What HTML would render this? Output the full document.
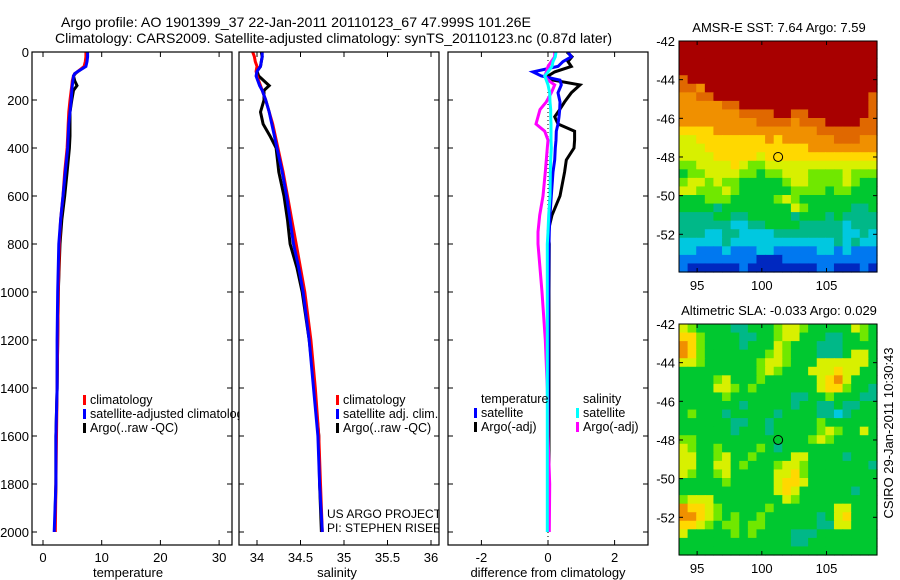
<!DOCTYPE html>
<html><head><meta charset="utf-8">
<style>
html,body{margin:0;padding:0;background:#fff;}
svg{display:block;font-family:"Liberation Sans",sans-serif;}
</style></head>
<body>
<svg id="fig" width="900" height="580" viewBox="0 0 900 580" xmlns="http://www.w3.org/2000/svg">
<rect width="900" height="580" fill="#fff"/>
<text x="61" y="27" font-size="14" textLength="470" lengthAdjust="spacingAndGlyphs">Argo profile: AO 1901399_37 22-Jan-2011 20110123_67 47.999S 101.26E</text>
<text x="55" y="43" font-size="14" textLength="557" lengthAdjust="spacingAndGlyphs">Climatology: CARS2009. Satellite-adjusted climatology: synTS_20110123.nc (0.87d later)</text>
<g id="g"></g>
</svg>
<script>
// ---------- data ----------
const depthTicks=[0,200,400,600,800,1000,1200,1400,1600,1800,2000];
const tempTicks=[0,10,20,30];
const salTicks=[34,34.5,35,35.5,36];
const diffTicks=[-2,0,2];
const latTicks=[-42,-44,-46,-48,-50,-52];
const lonTicks=[95,100,105];

const tDepth=[0,20,40,60,80,90,100,120,140,160,200,250,300,350,400,500,600,700,800,1000,1200,1400,1600,1800,2000];
const tempClim=[7.3,7.3,7.2,7.0,6.0,5.4,5.2,5.0,4.9,4.8,4.6,4.4,4.3,4.2,4.1,3.7,3.4,3.0,2.8,2.6,2.5,2.4,2.3,2.2,2.1];
const tempSat=[7.6,7.6,7.5,7.3,6.0,5.4,5.2,5.1,5.0,4.9,4.8,4.6,4.4,4.3,4.2,3.8,3.4,3.0,2.7,2.5,2.4,2.4,2.2,2.2,1.9];
const tempArgo=[7.5,7.5,7.4,7.2,6.0,5.5,5.2,5.4,5.8,5.2,4.9,4.6,4.6,4.6,4.5,4.1,3.7,3.2,2.9,2.6,2.5,2.4,2.2,2.2,2.0];

const sDepth=[0,20,40,60,80,100,140,160,200,250,300,350,400,500,600,700,800,900,1000,1200,1400,1600,1800,2000];
const salClim=[33.95,33.97,33.98,34.0,33.99,34.0,34.04,34.06,34.1,34.14,34.18,34.21,34.24,34.3,34.35,34.4,34.45,34.5,34.55,34.62,34.67,34.71,34.73,34.75];
const salSat=[34.06,34.06,34.05,34.04,34.0,33.99,34.03,34.06,34.1,34.14,34.17,34.2,34.23,34.29,34.34,34.38,34.42,34.48,34.53,34.6,34.65,34.7,34.72,34.75];
const salArgo=[34.05,34.06,34.05,34.04,34.0,34.02,34.14,34.08,34.08,34.04,34.07,34.15,34.22,34.25,34.31,34.35,34.38,34.46,34.52,34.6,34.66,34.71,34.72,34.74];

const dDepth=[0,20,40,60,83,100,117,137,170,208,240,270,300,330,367,400,450,500,600,680,750,800,1000,1200,1400,1600,1800,2000];
const dTempSat=[0.6,0.7,0.45,0.3,-0.45,-0.2,0.36,0.4,0.3,0.36,0.35,0.33,0.3,0.25,0.24,0.22,0.2,0.15,0.1,0.06,0.04,0.03,0.02,0.01,0.0,0.0,0.0,0.0];
const dTempArgo=[0.57,0.72,0.6,0.7,0.2,0.0,0.15,0.96,0.7,0.5,0.35,0.2,0.3,0.8,0.8,0.78,0.55,0.5,0.36,0.12,0.0,0.04,0.03,0.03,0.03,0.03,0.03,0.03];
const dSalSat=[0.24,0.22,0.15,0.12,0.0,-0.1,-0.05,0.0,0.05,0.06,0.08,0.08,0.09,0.09,0.09,0.1,0.08,0.07,0.06,0.02,0.0,-0.02,-0.02,-0.02,-0.02,-0.02,-0.02,-0.02];
const dSalArgo=[0.2,0.2,0.1,0.0,-0.05,-0.1,0.0,0.2,0.1,-0.05,-0.24,-0.3,-0.36,-0.1,0.0,-0.02,-0.05,-0.08,-0.15,-0.25,-0.3,-0.3,-0.18,-0.08,-0.02,0.0,0.05,0.04];

const sstRows=[
"aaaaaaaaaaaaaaaaaaaaaaa","aaaaaaaaaaaaaaaaaaaaaaa","aaaaaaaaaaaaaaaaaaaaaaa","aaaaaaaaaaaaaaaaaaaaaaa",
"9aaaaaaaaaaaaaaaaaaaaaa","998aaaaaaaaaaaaaaaaaaaa","8899aaaaaaaaaaaaaaaaaa9","8888899aaaaaaaaaaaaaaa9",
"88888889999aa99aaaaaaa9","88888888899998999aaaa99","77778888888888889999999","66777777778788888899988",
"66677777777777788888888","66667777767777777777777","55666676556666666666666","45566665545566655556555",
"56656554444456655556544","66555654444445555455444","44455544444565444444444","44443444444446544444334",
"33334433444443444343333","33333322334444333332333","33322332222333333332232","22222322222222222232322",
"22111211122111112212111","11111111100011111111111","10000001000000001100010"];
const slaRows=[
"65444433444566544444654","77544443344566444334454","87544443444654443334444","87544444445654443334664",
"66544444456654446666664","44444444456544466676644","44445644454444446786444","44446654544444446775443",
"44444544444443344544433","44444443444443443343344","45444344444344443323444","44444433443444445444444",
"44444434443444445654464","55444444444444456544444","65445444454344444444444","66445644544446644443444",
"66446645444566544444443","65445644444667544444444","44444544444677644444444","44444444444676444444344",
"56664444444465444444444","87765444445444444466444","88765454454444443467444","77654554554444443366444",
"64444454544443334444444","44444444444443344444444","44444444444444444444444"];
const floatLon=101.26, floatLat=-48.0;

// ---------- helpers ----------
const NS="http://www.w3.org/2000/svg";
const G=document.getElementById('g');
function mk(tag,attrs,parent){const e=document.createElementNS(NS,tag);for(const k in attrs)e.setAttribute(k,attrs[k]);(parent||G).appendChild(e);return e;}
const yD=d=>52+d*0.24;

function panel(name,x0,x1,xs,ticks,tickFmt,label,labelX,showY){
  const g=mk('g',{});
  
  
  for(const t of ticks){const x=xs(t);
    mk('line',{x1:x,x2:x,y1:545,y2:540,stroke:'#000'},g);
    mk('line',{x1:x,x2:x,y1:52,y2:57,stroke:'#000'},g);
    const tl=mk('text',{x:x,y:562,'font-size':13,'text-anchor':'middle'},g);tl.textContent=tickFmt(t);
    
    
  }
  for(const d of depthTicks){const y=yD(d);
    mk('line',{x1:x0,x2:x0+5,y1:y,y2:y,stroke:'#000'},g);
    mk('line',{x1:x1,x2:x1-5,y1:y,y2:y,stroke:'#000'},g);
    if(showY){const tl=mk('text',{x:x0-3,y:y+5,'font-size':13,'text-anchor':'end'},g);tl.textContent=d;
      
      }
  }
  const xl=mk('text',{x:labelX,y:577,'font-size':13,'text-anchor':'middle'},g);xl.textContent=label;
  
  
  return g;
}
function frame(g,x0,x1){mk('rect',{x:x0,y:52,width:x1-x0,height:493,fill:'none',stroke:'#000','stroke-width':1.2},g);}
function line(g,depths,vals,xs,color,name,w){
  const p=depths.map((d,i)=>xs(vals[i]).toFixed(1)+','+yD(d).toFixed(1)).join(' ');
  const e=mk('polyline',{points:p,fill:'none',stroke:color,'stroke-width':w||3,'stroke-linejoin':'miter'},g);
  
  
}
function legend(g,items,x,y,fs){
  items.forEach((it,i)=>{
    if(it[0]) mk('rect',{x:x,y:y+i*14-9,width:3,height:10,fill:it[0]},g);
    const t=mk('text',{x:x+7,y:y+i*14,'font-size':fs||12.5},g);t.textContent=it[1];
    
    
  });
}

// clip paths
const defs=mk('defs',{});
function clipRect(id,x,y,w,h){const c=mk('clipPath',{id:id},defs);mk('rect',{x:x,y:y,width:w,height:h},c);}
clipRect('c1',32,52,207,493);clipRect('c2',239,52,200,493);clipRect('c3',448,52,200,493);

// ---------- panel 1: temperature ----------
const xT=v=>43+v*5.87;
const p1=panel('temperature-panel',32,232,xT,tempTicks,t=>t,'temperature',128,true);
const p1c=mk('g',{'clip-path':'url(#c1)'},p1);
line(p1c,tDepth,tempArgo,xT,'#000','temp-argo-line');
line(p1c,tDepth,tempClim,xT,'#f00','temp-climatology-line');
line(p1c,tDepth,tempSat,xT,'#00f','temp-satellite-line');
legend(p1c,[['#f00','climatology'],['#00f','satellite-adjusted climatology'],['#000','Argo(..raw -QC)']],83,404);
frame(p1,32,232);

// ---------- panel 2: salinity ----------
const xS=v=>257+(v-34)*87;
const p2=panel('salinity-panel',239,439,xS,salTicks,t=>t,'salinity',337,false);
const p2c=mk('g',{'clip-path':'url(#c2)'},p2);
line(p2c,sDepth,salArgo,xS,'#000','sal-argo-line');
line(p2c,sDepth,salClim,xS,'#f00','sal-climatology-line');
line(p2c,sDepth,salSat,xS,'#00f','sal-satellite-line');
legend(p2c,[['#f00','climatology'],['#00f','satellite adj. clim.'],['#000','Argo(..raw -QC)']],336,404);
legend(p2c,[['','US ARGO PROJECT'],['','PI: STEPHEN RISER']],320,518,12);
frame(p2,239,439);

// ---------- panel 3: differences ----------
const xDf=v=>548+v*33.3;
const p3=panel('difference-panel',448,648,xDf,diffTicks,t=>t,'difference from climatology',548,false);
const p3c=mk('g',{'clip-path':'url(#c3)'},p3);
mk('line',{x1:548,x2:548,y1:52,y2:545,stroke:'#000','stroke-dasharray':'1,3'},p3c);
line(p3c,dDepth,dTempArgo,xDf,'#000','diff-temp-argo-line');
line(p3c,dDepth,dTempSat,xDf,'#00f','diff-temp-satellite-line');
line(p3c,dDepth,dSalArgo,xDf,'#f0f','diff-sal-argo-line');
line(p3c,dDepth,dSalSat,xDf,'#0ff','diff-sal-satellite-line');
legend(p3c,[['','temperature'],['#00f','satellite'],['#000','Argo(-adj)']],474,403);
legend(p3c,[['','salinity'],['#0ff','satellite'],['#f0f','Argo(-adj)']],576,403);
frame(p3,448,648);

// ---------- maps ----------
const cmap={'0':'#0028c0','1':'#0078f0','2':'#00c8e0','3':'#00b888','4':'#00c830','5':'#70e800','6':'#d8f000','7':'#ffd800','8':'#f09000','9':'#e06800','a':'#a80000'};
const lonMin=93.6,lonMax=108.9,latTop=-42,latBot=-53.95;
function map(name,rows,top,title){
  const g=mk('g',{});
  
  
  const L=679,R=877,B=top+231;
  const xs=lon=>L+(lon-lonMin)/(lonMax-lonMin)*(R-L);
  const ys=lat=>top+(latTop-lat)/(latTop-latBot)*(B-top);
  const nr=rows.length,nc=rows[0].length,cw=(R-L)/nc,ch=(B-top)/nr;
  rows.forEach((r,i)=>{for(let j=0;j<nc;j++){
    const c=mk('rect',{x:(L+j*cw).toFixed(2),y:(top+i*ch).toFixed(2),width:(cw+0.6).toFixed(2),height:(ch+0.6).toFixed(2),fill:cmap[r[j]]},g);
    
    
  }});
  mk('rect',{x:L,y:top,width:R-L,height:B-top,fill:'none',stroke:'#000'},g);
  for(const t of lonTicks){const x=xs(t);
    mk('line',{x1:x,x2:x,y1:B,y2:B-4,stroke:'#000'},g);mk('line',{x1:x,x2:x,y1:top,y2:top+4,stroke:'#000'},g);
    const tl=mk('text',{x:x,y:B+18,'font-size':13,'text-anchor':'middle'},g);tl.textContent=t;
    
    }
  for(const t of latTicks){const y=ys(t);
    mk('line',{x1:L,x2:L+4,y1:y,y2:y,stroke:'#000'},g);mk('line',{x1:R,x2:R-4,y1:y,y2:y,stroke:'#000'},g);
    const tl=mk('text',{x:L-4,y:y+5,'font-size':13,'text-anchor':'end'},g);tl.textContent=t;
    
    }
  const m=mk('circle',{cx:xs(floatLon),cy:ys(floatLat),r:4.5,fill:'none',stroke:'#000'},g);
  
  
  const tt=mk('text',{x:779,y:top-9,'font-size':13,'text-anchor':'middle'},g);tt.textContent=title;
  
  
}
map('sst-map',sstRows,41,'AMSR-E SST: 7.64 Argo: 7.59');
map('sla-map',slaRows,324,'Altimetric SLA: -0.033 Argo: 0.029');
const cs=mk('text',{x:0,y:0,'font-size':13,'text-anchor':'middle',transform:'translate(893,433) rotate(-90)'});
cs.textContent='CSIRO 29-Jan-2011 10:30:43';


</script>
</body></html>
